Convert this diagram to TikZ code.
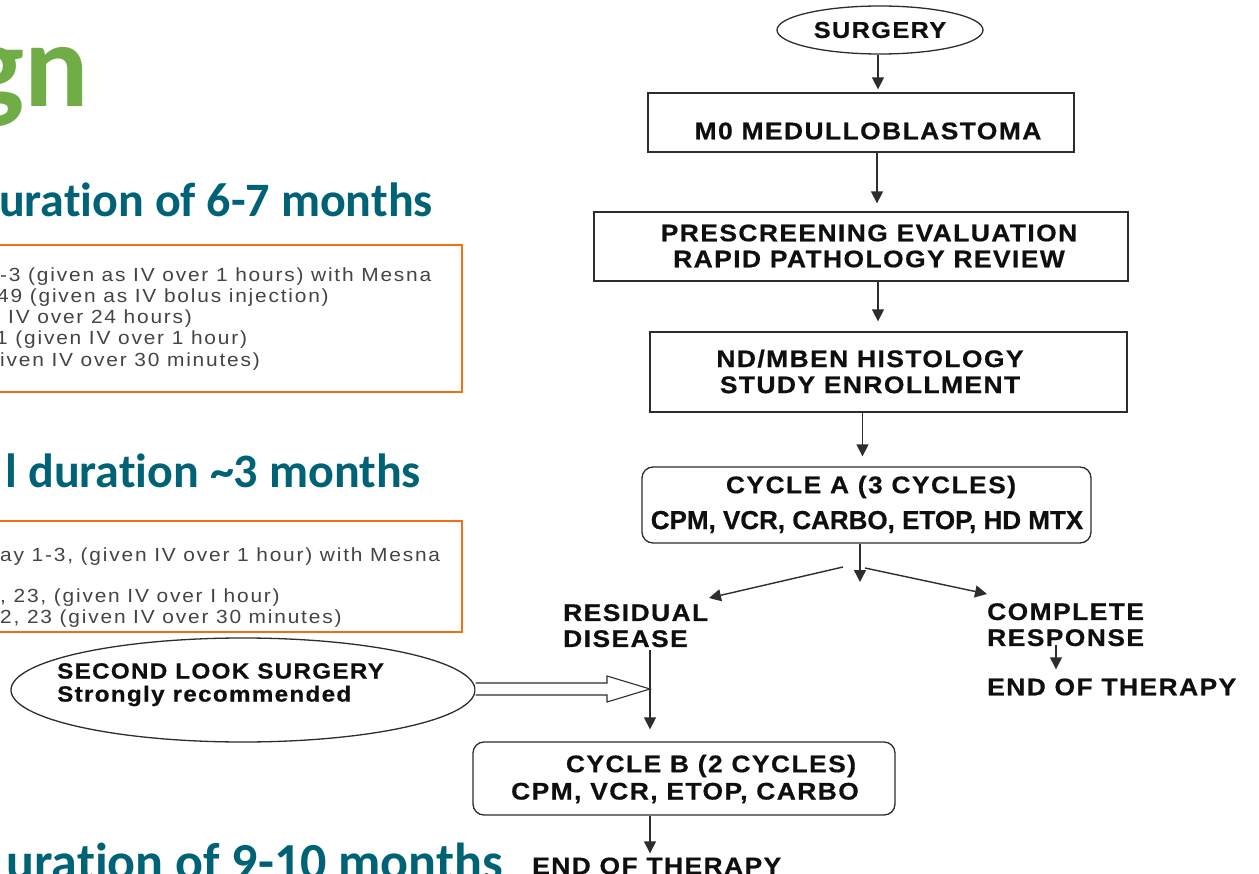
\documentclass[tikz,border=0pt]{standalone}
\usepackage{fontspec}
\usetikzlibrary{arrows.meta,shapes.geometric,calc}
\setmainfont{Liberation Sans}
\newfontfamily\flowfont{Liberation Sans}[LetterSpace=6, FakeStretch=1.1, FakeBold=0.6]
\newfontfamily\plainflow{Liberation Sans}[FakeBold=0.6]
\newfontfamily\notefont{Liberation Sans}[LetterSpace=9.5, FakeStretch=1.1]
\newfontfamily\headfont{Carlito}[Ligatures=NoCommon]

\definecolor{headteal}{RGB}{0,99,117}
\definecolor{headgreen}{RGB}{112,173,71}
\definecolor{boxorange}{RGB}{244,110,24}
\definecolor{notegray}{RGB}{68,68,68}
\definecolor{linegray}{RGB}{45,45,45}
\definecolor{inkblack}{RGB}{15,15,15}

\tikzset{
  flowtxt/.style={font=\flowfont\bfseries\fontsize{24}{26}\selectfont, text=inkblack, inner sep=0pt, align=center},
  sidetxt/.style={font=\flowfont\bfseries\fontsize{24}{26}\selectfont, text=inkblack, inner sep=0pt, align=left, anchor=north west},
  stepbox/.style={draw=linegray, line width=1.3pt, inner sep=0pt},
  roundbox/.style={stepbox, rounded corners=11pt},
  arr/.style={draw=linegray, line width=1.4pt, -{Triangle[length=12pt,width=12pt]}},
  headline/.style={font=\headfont\bfseries\fontsize{48}{50}\selectfont, text=headteal, inner sep=0pt},
  note/.style={font=\notefont\fontsize{19}{21}\selectfont, text=notegray, inner sep=0pt, anchor=west},
  notebox/.style={draw=boxorange, line width=2pt}
}

\begin{document}
\begin{tikzpicture}[x=1pt,y=-1pt]
\useasboundingbox (0,0) rectangle (1259,874);
\fill[white] (0,0) rectangle (1259,874);
\clip (0,0) rectangle (1259,874);

% ---------- slide headings ----------
\node[font=\headfont\bfseries\fontsize{120}{122}\selectfont, text=headgreen, inner sep=0pt, anchor=base east] (hgn) at (89,107) {gn};
\node[headline, anchor=base east] (h1) at (433,217) {uration of 6-7 months};
\node[headline, anchor=base east] (h2) at (421,488) {l duration \textasciitilde3 months};
\node[headline, font=\headfont\bfseries\fontsize{52}{54}\selectfont, anchor=base east] (h3) at (503,879) {uration of 9-10 months};

% ---------- dosing boxes ----------
\draw[notebox] (-5,245) rectangle (462,392);
\node[note] (n11) at (0,277) {-3 (given as IV over 1 hours) with Mesna};
\node[note] (n12) at (-3,298) {49 (given as IV bolus injection)};
\node[note] (n13) at (8,319) {IV over 24 hours)};
\node[note] (n14) at (-4,340) {1 (given IV over 1 hour)};
\node[note] (n15) at (0,362) {iven IV over 30 minutes)};

\draw[notebox] (-5,521) rectangle (462,632);
\node[note] (n21) at (0,557) {ay 1-3, (given IV over 1 hour) with Mesna};
\node[note] (n22) at (0,598) {, 23, (given IV over I hour)};
\node[note] (n23) at (0,619) {2, 23 (given IV over 30 minutes)};

% ---------- flow chart ----------
\node[ellipse, stepbox, minimum width=206pt, minimum height=48pt, flowtxt, font=\flowfont\bfseries\fontsize{23}{26}\selectfont] (surg) at (880,30) {SURGERY};

\node[stepbox, minimum width=426pt, minimum height=59pt] (m0) at (861,122.5) {};
\node[flowtxt] (m0t) at (868,131) {M0 MEDULLOBLASTOMA};

\node[stepbox, minimum width=534pt, minimum height=69pt] (pre) at (861,246.5) {};
\node[flowtxt] (pret) at (869,246) {PRESCREENING EVALUATION\\RAPID PATHOLOGY REVIEW};

\node[stepbox, minimum width=477pt, minimum height=80pt] (nd) at (888.5,372) {};
\node[flowtxt] (ndt) at (870,371.5) {ND/MBEN HISTOLOGY\\STUDY ENROLLMENT};

\node[roundbox, minimum width=449pt, minimum height=76pt] (cyca) at (866.5,505) {};
\node[flowtxt] (cyca1) at (871,487) {CYCLE A (3 CYCLES)};
\node[font=\plainflow\bfseries\fontsize{26}{30}\selectfont, text=inkblack, inner sep=0pt] (cyca2) at (867,522) {CPM, VCR, CARBO, ETOP, HD MTX};

\node[sidetxt] (resid) at (563,604) {RESIDUAL\\DISEASE};
\node[sidetxt] (compl) at (987,603) {COMPLETE\\RESPONSE};
\node[flowtxt, anchor=west] (endr) at (987,687) {END OF THERAPY};

\node[ellipse, stepbox, minimum width=464pt, minimum height=104pt] (sls) at (243,690) {};
\node[sidetxt, font=\flowfont\bfseries\fontsize{22}{23}\selectfont] (slst) at (57,663) {SECOND LOOK SURGERY\\Strongly recommended};

\node[roundbox, minimum width=422pt, minimum height=73pt] (cycb) at (684,778.5) {};
\node[flowtxt] (cycb1) at (711,766) {CYCLE B (2 CYCLES)};
\node[flowtxt] (cycb2) at (685,793) {CPM, VCR, ETOP, CARBO};

\node[flowtxt, anchor=west] (endb) at (532,866) {END OF THERAPY};

% ---------- connectors ----------
\draw[arr, shorten >=3pt] ([xshift=-2pt]surg.south) -- ([xshift=-2pt]surg.south |- m0.north);
\draw[arr, shorten >=8pt] ([xshift=16pt]m0.south) -- ([xshift=16pt]m0.south |- pre.north);
\draw[arr, shorten >=10pt] ([xshift=17pt]pre.south) -- ([xshift=17pt]pre.south |- nd.north);
\draw[arr, shorten >=10pt] ([xshift=-26pt]nd.south) -- ([xshift=-26pt]nd.south |- cyca.north);

\coordinate (splitc) at (860,582);
\coordinate (splitl) at (843,567);
\coordinate (splitr) at (865,568);
\coordinate (restip) at (709,598);
\coordinate (comtip) at (987,594);
\draw[arr] (cyca.south -| splitc) -- (splitc);
\draw[arr] (splitl) -- (restip);
\draw[arr] (splitr) -- (comtip);

\coordinate (crfoot) at (1056,645);
\draw[arr, shorten >=9pt] (crfoot) -- (crfoot |- endr.north);

\coordinate (rdfoot) at (650,650);
\coordinate (join) at (650,689);
\draw[arr, shorten >=12pt] (rdfoot) -- (rdfoot |- cycb.north);

% hollow block arrow from the second-look ellipse
\draw[draw=linegray, line width=1.1pt, fill=white, line join=miter]
  (sls.east |- 0,683) -- (607,683) -- (607,676) -- (join) -- (607,702) -- (607,695) -- (sls.east |- 0,695);

\coordinate (cbfoot) at (cycb.south -| rdfoot);
\draw[arr, shorten >=4pt] (cbfoot) -- (cbfoot |- endb.north);
\end{tikzpicture}
\end{document}
